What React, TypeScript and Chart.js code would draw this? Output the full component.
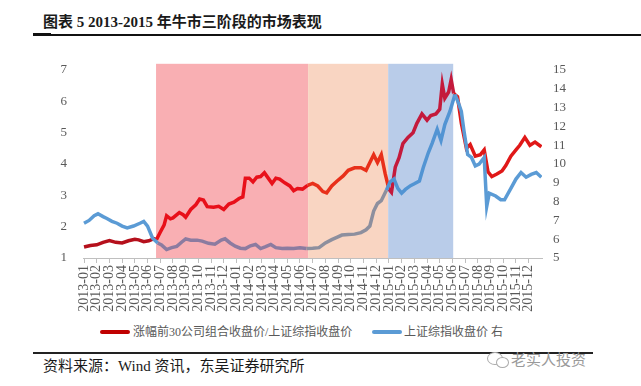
import React, { useEffect, useRef } from "react";
import { Chart, registerables } from "chart.js";

Chart.register(...registerables);

const monthLabels = [
  "2013-01", "2013-02", "2013-03", "2013-04", "2013-05", "2013-06",
  "2013-07", "2013-08", "2013-09", "2013-10", "2013-11", "2013-12",
  "2014-01", "2014-02", "2014-03", "2014-04", "2014-05", "2014-06",
  "2014-07", "2014-08", "2014-09", "2014-10", "2014-11", "2014-12",
  "2015-01", "2015-02", "2015-03", "2015-04", "2015-05", "2015-06",
  "2015-07", "2015-08", "2015-09", "2015-10", "2015-11", "2015-12",
];

// red series: top-30 portfolio / SSE composite (left axis); x in months since 2013-01
const ratioX = [
  0, 0.5, 1.0, 1.5, 2.0, 2.5, 3.0, 3.5, 4.0, 4.3, 4.7, 5.1, 5.5, 5.7,
  6.0, 6.3, 6.5, 6.8, 7.0, 7.5, 7.8, 8.0, 8.4, 8.8, 9.1, 9.4, 9.7, 10.2,
  10.6, 11.0, 11.4, 11.8, 12.2, 12.5, 12.7, 13.0, 13.3, 13.6, 13.9, 14.2,
  14.5, 14.8, 15.1, 15.4, 15.8, 16.2, 16.5, 16.8, 17.2, 17.6, 18.0, 18.4,
  18.8, 19.1, 19.5, 19.9, 20.4, 20.8, 21.3, 21.8, 22.2, 22.5, 22.8, 23.1,
  23.4, 23.7, 24.0, 24.2, 24.5, 24.8, 25.1, 25.5, 25.9, 26.2, 26.6, 27.0,
  27.3, 27.7, 28.0, 28.2, 28.4, 28.7, 28.9, 29.1, 29.4, 29.7, 30.1, 30.4,
  30.8, 31.2, 31.5, 31.8, 32.1, 32.5, 32.9, 33.2, 33.6, 34.0, 34.3, 34.7,
  35.1, 35.5, 36.0,
];
const ratioY = [
  1.35, 1.40, 1.42, 1.50, 1.56, 1.50, 1.48, 1.55, 1.60, 1.58, 1.52, 1.55, 1.62, 1.58,
  1.82, 2.05, 2.35, 2.25, 2.28, 2.45, 2.38, 2.30, 2.55, 2.70, 2.88, 2.85, 2.64, 2.62,
  2.65, 2.55, 2.72, 2.78, 2.90, 2.95, 3.55, 3.55, 3.43, 3.58, 3.60, 3.72,
  3.55, 3.38, 3.55, 3.52, 3.40, 3.30, 3.15, 3.22, 3.20, 3.32, 3.38, 3.30,
  3.12, 3.08, 3.30, 3.45, 3.62, 3.80, 3.88, 3.88, 3.80, 4.05, 4.30, 4.05,
  4.30, 3.70, 3.20, 3.10, 3.90, 4.20, 4.65, 4.85, 5.00, 5.30, 5.60, 5.40,
  5.55, 5.60, 5.75, 6.55, 6.10, 6.30, 6.70, 6.25, 6.15, 5.30, 4.50, 4.62,
  4.25, 4.30, 4.45, 3.75, 3.60, 3.68, 3.78, 3.95, 4.25, 4.45, 4.60, 4.85,
  4.60, 4.70, 4.55,
];

// blue series: SSE composite close (right axis)
const indexX = [
  0, 0.4, 0.8, 1.1, 1.5, 1.8, 2.2, 2.6, 3.0, 3.4, 3.9, 4.4, 4.7, 5.0,
  5.4, 5.8, 6.1, 6.5, 6.9, 7.3, 7.7, 8.0, 8.4, 8.9, 9.3, 9.8, 10.3, 10.8,
  11.1, 11.5, 11.9, 12.3, 12.7, 13.1, 13.5, 13.9, 14.3, 14.7, 15.1, 15.6,
  16.0, 16.5, 17.0, 17.5, 18.0, 18.5, 19.0, 19.5, 19.9, 20.3, 20.8, 21.3,
  21.8, 22.2, 22.5, 22.8, 23.1, 23.4, 23.8, 24.1, 24.4, 24.7, 25.0, 25.3,
  25.7, 26.0, 26.4, 26.7, 27.1, 27.4, 27.8, 28.1, 28.4, 28.8, 29.2, 29.5,
  29.7, 29.9, 30.2, 30.5, 30.8, 31.1, 31.5, 31.7, 31.9, 32.4, 32.8, 33.1,
  33.6, 34.0, 34.4, 34.8, 35.2, 35.6, 36.0,
];
const indexY = [
  6.85, 7.00, 7.25, 7.35, 7.20, 7.10, 6.95, 6.85, 6.70, 6.60, 6.70, 6.85, 6.95, 6.70,
  6.05, 5.80, 5.70, 5.45, 5.55, 5.62, 5.85, 6.02, 5.95, 5.95, 5.90, 5.78, 5.73, 5.95,
  6.02, 5.80, 5.63, 5.52, 5.50, 5.65, 5.72, 5.50, 5.60, 5.72, 5.55, 5.50,
  5.52, 5.50, 5.55, 5.50, 5.52, 5.55, 5.80, 5.98, 6.10, 6.22, 6.25, 6.27,
  6.35, 6.50, 6.70, 7.50, 7.90, 8.05, 8.60, 9.05, 9.20, 8.70, 8.45, 8.65,
  8.85, 8.95, 9.10, 9.80, 10.60, 11.10, 11.85, 11.25, 12.10, 12.80, 13.70, 13.20,
  12.80, 11.80, 10.50, 10.35, 9.90, 10.00, 10.35, 7.75, 8.45, 8.30, 8.10, 8.10,
  8.70, 9.20, 9.55, 9.30, 9.45, 9.55, 9.30,
];

const leftTicks = [1, 2, 3, 4, 5, 6, 7];
const rightTicks = [5, 6, 7, 8, 9, 10, 11, 12, 13, 14, 15];

// three phases of the bull market (month positions)
const phaseEdges = [5.67, 17.64, 23.94, 29.06];
const phaseFills = ["#F9AFB3", "#F9D5C2", "#B9CCE9"];

const ratioColors = ["#B5101C", "#E8101A", "#E8301A", "#C41A3C", "#E01818"];
const indexColors = ["#5B9BD5", "#8C7BA0", "#8D8F9E", "#5294D3", "#5B9BD5"];

const seriesNames = ["涨幅前30公司组合收盘价/上证综指收盘价", "上证综指收盘价 右"];

function zoneOf(x: number) {
  if (x < phaseEdges[0]) return 0;
  if (x < phaseEdges[1]) return 1;
  if (x < phaseEdges[2]) return 2;
  if (x < phaseEdges[3]) return 3;
  return 4;
}

const bandPlugin = {
  id: "bands",
  beforeDatasetsDraw(chart: any) {
    const { ctx, chartArea, scales } = chart;
    const xs = scales.x;
    ctx.save();
    for (let i = 0; i < phaseFills.length; i++) {
      const a = xs.getPixelForValue(phaseEdges[i]);
      const b = xs.getPixelForValue(phaseEdges[i + 1]);
      ctx.fillStyle = phaseFills[i];
      ctx.fillRect(a, chartArea.top, b - a, chartArea.bottom - chartArea.top);
    }
    ctx.restore();
  },
};

export default function App() {
  const ref = useRef<HTMLCanvasElement>(null);
  useEffect(() => {
    if (!ref.current) return;
    const tickFont = { family: "'Liberation Serif', 'DejaVu Serif', serif", size: 13 };
    const xFont = { family: "'Liberation Serif', 'DejaVu Serif', serif", size: 14 };
    const chart = new Chart(ref.current, {
      type: "line",
      data: {
        datasets: [
          {
            label: seriesNames[0],
            data: ratioX.map((x, i) => ({ x, y: ratioY[i] })),
            yAxisID: "y",
            borderColor: "#C00000",
            borderWidth: 3.5,
            pointRadius: 0,
            tension: 0,
            order: 1,
            segment: {
              borderColor: (c: any) => ratioColors[zoneOf((c.p0.parsed.x + c.p1.parsed.x) / 2)],
            },
          },
          {
            label: seriesNames[1],
            data: indexX.map((x, i) => ({ x, y: indexY[i] })),
            yAxisID: "y1",
            borderColor: "#5B9BD5",
            borderWidth: 3.5,
            pointRadius: 0,
            tension: 0,
            order: 0,
            segment: {
              borderColor: (c: any) => indexColors[zoneOf((c.p0.parsed.x + c.p1.parsed.x) / 2)],
            },
          },
        ],
      },
      options: {
        animation: false,
        responsive: false,
        maintainAspectRatio: false,
        layout: { padding: { top: 6, left: 0, right: 0, bottom: 0 } },
        plugins: { legend: { display: false }, tooltip: { enabled: false } },
        scales: {
          x: {
            type: "linear",
            min: -0.08,
            max: 36.05,
            afterBuildTicks: (s: any) => {
              s.ticks = monthLabels.map((_, i) => ({ value: i }));
            },
            afterFit: (s: any) => {
              s.height = 57;
            },
            ticks: {
              autoSkip: false,
              minRotation: 90,
              maxRotation: 90,
              padding: 2,
              color: "#595959",
              font: xFont,
              callback: (v: any) => monthLabels[Math.round(v)] ?? "",
            },
            grid: { drawOnChartArea: false, tickLength: 5, color: "#BFBFBF" },
            border: { color: "#BFBFBF" },
          },
          y: {
            position: "left",
            min: 1,
            max: 7.2,
            afterBuildTicks: (s: any) => {
              s.ticks = leftTicks.map((v) => ({ value: v }));
            },
            afterFit: (s: any) => {
              s.width = 83;
            },
            ticks: { padding: 16, color: "#595959", font: tickFont },
            grid: { display: false, drawTicks: false },
            border: { display: false },
          },
          y1: {
            position: "right",
            min: 5,
            max: 5 + (6.2 * 10) / 6,
            afterBuildTicks: (s: any) => {
              s.ticks = rightTicks.map((v) => ({ value: v }));
            },
            afterFit: (s: any) => {
              s.width = 99;
            },
            ticks: { padding: 11, color: "#595959", font: tickFont },
            grid: { display: false, drawTicks: false },
            border: { display: false },
          },
        },
      } as any,
      plugins: [bandPlugin],
    });
    return () => chart.destroy();
  }, []);

  const cjk = "'Liberation Serif', 'Noto Sans CJK SC', serif";
  return (
    <div
      style={{
        position: "fixed",
        left: 0,
        top: 0,
        width: 641,
        height: 386,
        background: "#fff",
        overflow: "hidden",
        fontFamily: cjk,
      }}
    >
      <div
        style={{
          position: "absolute",
          left: 43,
          top: 12,
          fontSize: 15,
          fontWeight: 700,
          color: "#1a1a1a",
          whiteSpace: "nowrap",
          lineHeight: "20px",
        }}
      >
        图表 5 2013-2015 年牛市三阶段的市场表现
      </div>
      <div style={{ position: "absolute", left: 33, top: 34, width: 608, height: 2, background: "#111" }} />
      <div style={{ position: "absolute", left: 33, top: 33, width: 18, height: 3, background: "#111" }} />

      <canvas
        ref={ref}
        width={641}
        height={275}
        style={{ position: "absolute", left: 0, top: 40, width: 641, height: 275 }}
      />

      <div style={{ position: "absolute", left: 100, top: 330, width: 30, height: 4, background: "#C00000", borderRadius: 2 }} />
      <div
        style={{
          position: "absolute",
          left: 133,
          top: 323,
          fontSize: 12,
          lineHeight: "18px",
          color: "#595959",
          whiteSpace: "nowrap",
        }}
      >
        {seriesNames[0]}
      </div>
      <div style={{ position: "absolute", left: 372, top: 330, width: 30, height: 4, background: "#5B9BD5", borderRadius: 2 }} />
      <div
        style={{
          position: "absolute",
          left: 404,
          top: 323,
          fontSize: 12,
          lineHeight: "18px",
          color: "#595959",
          whiteSpace: "nowrap",
        }}
      >
        {seriesNames[1]}
      </div>

      <div style={{ position: "absolute", left: 33, top: 352, width: 560, height: 2, background: "#222" }} />
      <div
        style={{
          position: "absolute",
          left: 43,
          top: 356,
          fontSize: 15,
          lineHeight: "20px",
          color: "#1a1a1a",
          whiteSpace: "nowrap",
        }}
      >
        资料来源：Wind 资讯，东吴证券研究所
      </div>

      <div
        style={{
          position: "absolute",
          left: 487,
          top: 352,
          width: 14,
          height: 11,
          border: "1.5px solid #aaa",
          borderRadius: "50%",
          background: "#fff",
        }}
      />
      <div
        style={{
          position: "absolute",
          left: 496,
          top: 357,
          width: 11,
          height: 9,
          border: "1.5px solid #aaa",
          borderRadius: "50%",
          background: "#fff",
        }}
      />
      <div
        style={{
          position: "absolute",
          left: 511,
          top: 349,
          fontSize: 15,
          lineHeight: "20px",
          color: "#9a9a9a",
          whiteSpace: "nowrap",
          fontFamily: "'Noto Sans CJK SC', sans-serif",
        }}
      >
        老实人投资
      </div>
    </div>
  );
}
